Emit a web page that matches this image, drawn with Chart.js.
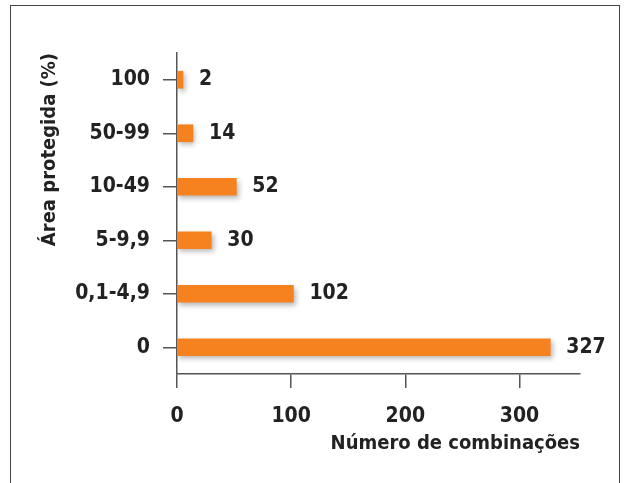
<!DOCTYPE html>
<html>
<head>
<meta charset="utf-8">
<script src="https://cdn.jsdelivr.net/npm/chart.js@4/dist/chart.umd.min.js"></script>
<style>
  html, body { margin: 0; padding: 0; background: #fff; }
  #wrap { position: relative; width: 631px; height: 483px; overflow: hidden; }
  #frame { position: absolute; left: 10px; top: 5px; width: 608px; height: 520px; border: 1.5px solid #444; }
  canvas { position: absolute; left: 0; top: 0; }
</style>
</head>
<body>
<div id="wrap">
  <div id="frame"></div>
  <canvas id="chart" width="631" height="483"></canvas>
</div>
<script>
// Data
const categories = ['100', '50-99', '10-49', '5-9,9', '0,1-4,9', '0'];
const combinations = [2, 14, 52, 30, 102, 327];
const xTicks = [0, 100, 200, 300];

const FONT = "'DejaVu Sans Condensed', 'DejaVu Sans', sans-serif";
const INK = '#222';
const AXIS = '#555';

// soft shadow under the bars
const barShadow = {
    id: 'barShadow',
    beforeDatasetDraw(chart) {
        const c = chart.ctx;
        c.save();
        c.shadowColor = 'rgba(0,0,0,0.28)';
        c.shadowBlur = 5;
        c.shadowOffsetX = 2;
        c.shadowOffsetY = 3;
    },
    afterDatasetDraw(chart) {
        chart.ctx.restore();
    }
};

// value labels at bar ends
const valueLabels = {
    id: 'valueLabels',
    afterDatasetsDraw(chart) {
        const c = chart.ctx;
        const meta = chart.getDatasetMeta(0);
        c.save();
        c.font = 'bold 21px ' + FONT;
        c.fillStyle = INK;
        c.textAlign = 'left';
        c.textBaseline = 'middle';
        meta.data.forEach((bar, i) => {
            c.fillText(String(combinations[i]), bar.x + 16, bar.y);
        });
        c.restore();
    }
};

new Chart(document.getElementById('chart'), {
    type: 'bar',
    data: {
        labels: categories,
        datasets: [{
            data: combinations,
            backgroundColor: '#F5821F',
            borderWidth: 0,
            barThickness: 17,
            minBarLength: 6
        }]
    },
    options: {
        indexAxis: 'y',
        responsive: false,
        animation: false,
        layout: { padding: { top: 53, right: 51, bottom: 27, left: 0 } },
        plugins: {
            legend: { display: false },
            tooltip: { enabled: false }
        },
        scales: {
            x: {
                min: 0,
                max: 353,
                afterFit: s => { s.height = 82; },
                afterBuildTicks: s => { s.ticks = xTicks.map(v => ({ value: v })); },
                ticks: {
                    color: INK,
                    font: { family: FONT, size: 21, weight: 'bold' },
                    padding: 16
                },
                grid: { drawOnChartArea: false, drawTicks: true, tickLength: 14, color: AXIS, lineWidth: 1.5 },
                border: { color: AXIS, width: 1.5 },
                title: {
                    display: true,
                    text: 'Número de combinações',
                    align: 'end',
                    color: INK,
                    font: { family: FONT, size: 20, weight: 'bold' },
                    padding: { top: 0, bottom: 0 }
                }
            },
            y: {
                afterFit: s => { s.width = 177; },
                ticks: {
                    color: INK,
                    font: { family: FONT, size: 21, weight: 'bold' },
                    padding: 13
                },
                grid: { offset: false, drawOnChartArea: false, drawTicks: true, tickLength: 14, color: AXIS, lineWidth: 1.5 },
                border: { color: AXIS, width: 1.5 },
                title: {
                    display: true,
                    text: 'Área protegida (%)',
                    align: 'end',
                    color: INK,
                    font: { family: FONT, size: 20, weight: 'bold' },
                    padding: { top: 38, bottom: 0 }
                }
            }
        }
    },
    plugins: [barShadow, valueLabels]
});
</script>
</body>
</html>
